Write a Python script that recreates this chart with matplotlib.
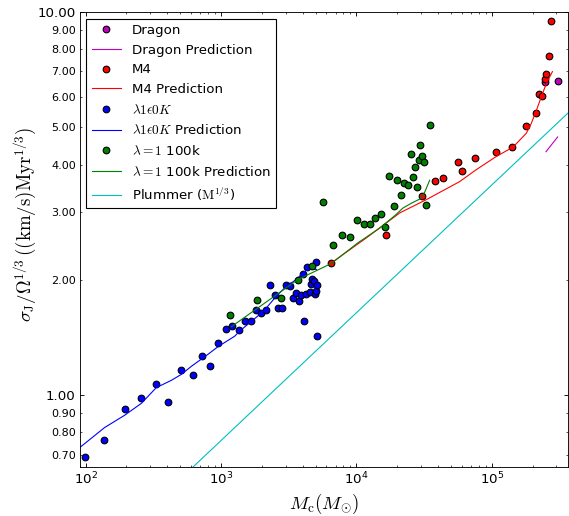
import matplotlib
matplotlib.use('Agg')
import matplotlib.pyplot as plt
from matplotlib.ticker import FormatStrFormatter, NullFormatter

plt.rcParams['mathtext.fontset'] = 'cm'
plt.rcParams['font.family'] = 'DejaVu Sans'

# Dragon
dragon_m = [246700, 306400]
dragon_s = [6.55, 6.6]
dragon_pred_m = [251000, 306000]
dragon_pred_s = [4.32, 4.72]

# M4
m4_m = [6530, 16630, 30670, 38030, 43840, 56510, 59800, 75500, 106700, 141600,
        179700, 213100, 222800, 236000, 246700, 252800, 264300, 275200]
m4_s = [2.21, 2.62, 3.32, 3.62, 3.70, 4.07, 3.85, 4.15, 4.31, 4.45,
        5.04, 5.46, 6.1, 6.05, 6.7, 6.9, 7.7, 9.5]
m4_pred_m = [6530, 11840, 20840, 32830, 57810, 76840, 108000, 143200, 179900,
             195900, 213300, 232300, 253000, 280100]
m4_pred_s = [2.216, 2.575, 2.99, 3.24, 3.61, 3.88, 4.20, 4.44, 4.83,
             5.13, 5.54, 6.02, 6.52, 6.99]

# lambda1 eps0 K
lam_m = [98, 136, 194, 255, 329, 408, 506, 617, 719, 829, 949, 1082, 1203, 1356,
         1510, 1655, 1823, 1973, 2135, 2296, 2488, 2648, 2818, 3000, 3213, 3398,
         3576, 3760, 4030, 3875, 4265, 4307, 4510, 4586, 4716, 4852, 4909, 4998,
         5056, 5107, 4122, 5107]
lam_s = [0.69, 0.765, 0.92, 0.984, 1.07, 0.96, 1.164, 1.129, 1.27, 1.19, 1.366, 1.485,
         1.52, 1.476, 1.56, 1.565, 1.67, 1.638, 1.67, 1.945, 1.83, 1.687, 1.694, 1.94,
         1.925, 1.79, 1.85, 1.765, 2.07, 1.83, 1.84, 2.16, 1.86, 1.95, 2.01, 1.99,
         1.84, 2.23, 1.87, 1.94, 1.567, 1.427]
lam_pred_m = [88, 138, 194, 258, 332, 429, 509, 603, 800, 948, 1260, 1371, 1626, 1928,
              2161, 2561, 3036, 3597, 3918, 4268, 4649, 5058]
lam_pred_s = [0.725, 0.824, 0.887, 0.953, 1.047, 1.094, 1.134, 1.19, 1.279, 1.339,
              1.426, 1.47, 1.546, 1.625, 1.691, 1.814, 1.926, 2.005, 2.065, 2.12,
              2.138, 2.13]

# lambda=1 100k
k100_m = [1159, 1853, 2755, 3680, 4670, 5660, 6666, 7814, 8954, 10150, 11360, 12580,
          13780, 15100, 16340, 17500, 18830, 19930, 21330, 22600, 23990, 25120, 26130,
          27050, 28000, 28780, 29640, 30670, 31340, 32430, 35130]
k100_s = [1.62, 1.77, 1.79, 2.0, 2.18, 3.2, 2.47, 2.62, 2.595, 2.86, 2.8, 2.79, 2.9,
          2.97, 2.755, 3.73, 3.11, 3.65, 3.34, 3.57, 3.53, 4.26, 3.71, 3.94, 3.49,
          4.12, 4.51, 4.2, 4.07, 3.14, 5.08]
k100_pred_m = [1191, 3698, 6530, 10260, 14830, 19140, 22040, 25420, 29300, 31350,
               32830, 34730]
k100_pred_s = [1.51, 2.005, 2.208, 2.50, 2.73, 2.94, 3.08, 3.17, 3.25, 3.34, 3.47, 3.64]

# Plummer M^(1/3) reference line
plummer_m = [620, 365000]
plummer_s = [0.65, 5.45]

fig = plt.figure(figsize=(569 / 80., 516 / 80.), dpi=80)
ax = fig.add_axes([79.5 / 569, 49. / 516, 488.5 / 569, 455. / 516])

ax.loglog(dragon_m, dragon_s, 'mo', ms=6, mec='k', label='Dragon')
ax.loglog(dragon_pred_m, dragon_pred_s, 'm-', lw=1, label='Dragon Prediction')
ax.loglog(m4_m, m4_s, 'ro', ms=6, mec='k', label='M4')
ax.loglog(m4_pred_m, m4_pred_s, 'r-', lw=1, label='M4 Prediction')
ax.loglog(lam_m, lam_s, 'bo', ms=6, mec='k', label=r'$\lambda 1 \epsilon 0 K$')
ax.loglog(lam_pred_m, lam_pred_s, 'b-', lw=1, label=r'$\lambda 1 \epsilon 0 K$ Prediction')
ax.loglog(k100_m, k100_s, 'o', color=(0, 0.5, 0), ms=6, mec='k', label=r'$\lambda = 1$ 100k')
ax.loglog(k100_pred_m, k100_pred_s, '-', color=(0, 0.5, 0), lw=1,
          label=r'$\lambda = 1$ 100k Prediction')
ax.loglog(plummer_m, plummer_s, '-', color=(0, 0.75, 0.75), lw=1,
          label=r'Plummer ($\mathrm{M}^{1/3}$)')

ax.set_xlim(90, 3.65e5)
ax.set_ylim(0.65, 10)

ax.yaxis.set_major_formatter(FormatStrFormatter('%.2f'))
ax.yaxis.set_minor_formatter(FormatStrFormatter('%.2f'))
ax.xaxis.set_minor_formatter(NullFormatter())
ax.tick_params(which='both', direction='in', top=True, right=True)
ax.tick_params(which='major', length=4, labelsize=12)
ax.tick_params(which='minor', length=2, labelsize=10)

ax.set_xlabel(r'$M_{\rm c}(M_{\odot})$', fontsize=17)
ax.set_ylabel(r'$\sigma_{\rm J}/\Omega^{1/3}\,((\mathrm{km/s})\mathrm{Myr}^{1/3})$', fontsize=17)
ax.yaxis.set_label_coords(-0.082, 0.532)

leg = ax.legend(loc='upper left', numpoints=1, fontsize=12, fancybox=False,
                framealpha=1, edgecolor='k', handlelength=2.2, labelspacing=0.5)
leg.get_frame().set_linewidth(1)

fig.savefig('out.png', dpi=80)
